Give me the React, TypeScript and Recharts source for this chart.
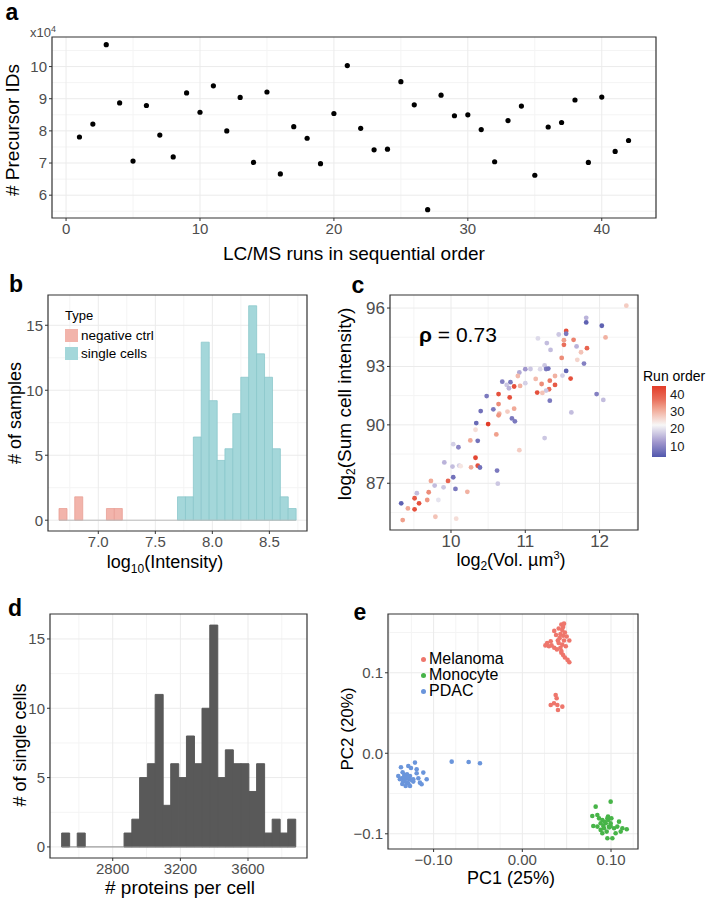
import React from 'react'
import {
  ScatterChart,
  Scatter,
  ComposedChart,
  Bar,
  XAxis,
  YAxis,
  CartesianGrid,
  ReferenceArea,
  ReferenceLine,
} from 'recharts'

const FONT = '"Liberation Sans", Arial, Helvetica, sans-serif'
const NARROW = '"Liberation Sans Narrow", "Arial Narrow", "Liberation Sans", sans-serif'
const TICK_GREY = '#4D4D4D'

// ---- panel a: precursor IDs per run (x10^4)
const runNumber = [
  1, 2, 3, 4, 5, 6, 7, 8, 9, 10, 11, 12, 13, 14, 15, 16, 17, 18, 19, 20, 21,
  22, 23, 24, 25, 26, 27, 28, 29, 30, 31, 32, 33, 34, 35, 36, 37, 38, 39, 40, 41, 42,
]
const precursorIds10k = [
  7.81, 8.21, 10.68, 8.87, 7.06, 8.79, 7.87, 7.19, 9.18, 8.58, 9.4, 8.0, 9.04, 7.02,
  9.21, 6.66, 8.13, 7.77, 6.98, 8.54, 10.03, 8.08, 7.41, 7.43, 9.53, 8.81, 5.55, 9.11,
  8.47, 8.5, 8.04, 7.04, 8.32, 8.77, 6.62, 8.12, 8.26, 8.96, 7.02, 9.05, 7.36, 7.7,
]

// ---- panel b: histogram of log10 intensity
const intensityBins = [
  6.69, 6.759, 6.828, 6.898, 6.967, 7.036, 7.106, 7.175, 7.244, 7.314, 7.383, 7.452,
  7.521, 7.591, 7.66, 7.729, 7.799, 7.868, 7.937, 8.007, 8.076, 8.145, 8.214, 8.284,
  8.353, 8.422, 8.492, 8.561, 8.63, 8.699,
]
const negCtrlCounts = [
  0.9, 0, 1.8, 0, 0, 0, 0.9, 0.9, 0, 0, 0, 0, 0, 0, 0, 0, 0, 0, 0, 0, 0, 0, 0, 0, 0, 0, 0, 0, 0, 0,
]
const singleCellCounts = [
  0, 0, 0, 0, 0, 0, 0, 0, 0, 0, 0, 0, 0, 0, 0, 1.8, 1.8, 6.4, 13.7, 9.2, 4.6, 5.5, 8.2,
  11, 16.5, 12.8, 11, 5.5, 1.8, 0.9,
]

// ---- panel c: volume vs summed intensity, coloured by run order
const cellVolume = [
  12.36, 11.82, 11.82, 12.03, 11.55, 11.55, 11.45, 12.08, 11.17, 11.65, 11.52, 11.29,
  11.52, 11.69, 11.83, 11.34, 11.75, 11.49, 11.7, 11.79, 11.26, 11.0, 11.07, 11.2,
  11.28, 11.31, 11.55, 10.92, 11.5, 11.4, 10.9, 11.61, 10.69, 10.8, 11.33, 11.14,
  10.75, 10.93, 11.0, 11.22, 11.4, 10.85, 10.78, 11.32, 11.28, 11.23, 11.16, 10.64,
  10.48, 10.79, 11.96, 12.05, 11.33, 10.64, 10.85, 10.76, 10.57, 10.4, 11.62, 10.82,
  10.65, 10.64, 10.86, 10.34, 10.5, 10.61, 11.26, 10.92, 10.03, 10.1, 10.26, 10.36,
  10.33, 10.33, 10.36, 10.39, 10.27, 10.62, 9.91, 10.02, 10.11, 10.13, 10.03, 9.96,
  10.63, 9.73, 9.78, 9.9, 10.06, 10.22, 9.7, 9.54, 9.51, 9.68, 9.83, 9.33, 9.57, 9.42,
  9.51, 9.79, 9.35, 10.07,
]
const cellIntensity = [
  96.12, 95.5, 95.26, 95.09, 94.82, 94.68, 94.64, 94.49, 94.44, 94.37, 94.35, 94.2,
  94.11, 94.03, 93.94, 93.85, 93.73, 93.44, 93.34, 93.15, 93.05, 92.86, 92.87, 92.86,
  92.87, 92.89, 92.77, 92.69, 92.53, 92.51, 92.51, 92.38, 92.22, 92.19, 92.27, 92.36,
  92.05, 92.0, 92.14, 92.1, 92.05, 91.97, 91.88, 91.83, 91.76, 91.64, 91.66, 91.58,
  91.48, 91.41, 91.58, 91.28, 91.24, 91.07, 90.83, 90.68, 90.8, 90.71, 90.64, 90.33,
  90.57, 90.49, 90.18, 90.09, 90.04, 89.51, 89.32, 88.7, 89.01, 88.85, 89.2, 89.18,
  89.75, 88.31, 87.9, 87.81, 87.82, 87.65, 88.07, 87.86, 87.91, 87.88, 87.31, 87.12,
  86.98, 87.12, 86.88, 86.79, 86.71, 86.56, 86.54, 86.49, 86.23, 86.14, 86.14, 85.97,
  85.97, 85.71, 85.66, 85.28, 85.11, 85.18,
]
const cellRunOrder = [
  27, 15, 5, 5, 40, 8, 17, 30, 19, 35, 32, 16, 37, 15, 38, 16, 28, 34, 26, 9, 17, 12,
  17, 19, 8, 7, 5, 14, 18, 30, 29, 40, 9, 8, 36, 29, 17, 30, 18, 34, 39, 40, 15, 37,
  17, 28, 40, 40, 8, 40, 9, 16, 8, 34, 31, 27, 8, 7, 16, 8, 30, 33, 8, 6, 42, 32, 17,
  27, 18, 10, 31, 7, 25, 41, 40, 7, 31, 8, 15, 16, 18, 24, 7, 38, 17, 31, 16, 17, 8,
  30, 34, 16, 39, 33, 20, 5, 40, 31, 40, 28, 32, 25,
]

// ---- panel d: proteins per cell histogram
const proteinBins = [
  2521, 2567, 2613, 2659, 2705, 2752, 2798, 2844, 2890, 2936, 2982, 3028, 3074, 3120,
  3166, 3213, 3259, 3305, 3351, 3397, 3443, 3489, 3535, 3581, 3628, 3674, 3720, 3766,
  3812, 3858,
]
const proteinCounts = [
  1, 0, 1, 0, 0, 0, 0, 0, 1, 2, 5, 6, 11, 3, 6, 5, 8, 6, 10, 16, 5, 7, 6, 6, 4, 6, 1, 2, 1, 2,
]

// ---- panel e: PCA
const melanomaPC1 = [
  0.044, 0.047, 0.041, 0.036, 0.045, 0.043, 0.046, 0.05, 0.042, 0.047, 0.053, 0.04,
  0.028, 0.03, 0.033, 0.026, 0.036, 0.039, 0.043, 0.045, 0.041, 0.044, 0.046, 0.048,
  0.051, 0.053, 0.044, 0.048, 0.038, 0.046, 0.032, 0.049, 0.0376, 0.0387, 0.0357,
  0.032, 0.0395, 0.0451, 0.0402,
]
const melanomaPC2 = [
  0.16, 0.161, 0.155, 0.152, 0.153, 0.148, 0.146, 0.145, 0.143, 0.14, 0.14, 0.14,
  0.137, 0.133, 0.134, 0.134, 0.131, 0.129, 0.131, 0.135, 0.137, 0.125, 0.122, 0.119,
  0.116, 0.113, 0.127, 0.15, 0.147, 0.157, 0.139, 0.133, 0.0724, 0.0683, 0.0621, 0.06,
  0.06, 0.0579, 0.0538,
]
const monocytePC1 = [
  0.0996, 0.0827, 0.0789, 0.0846, 0.0902, 0.0959, 0.0996, 0.0883, 0.0977, 0.1034,
  0.109, 0.08, 0.0921, 0.1109, 0.1177, 0.1052, 0.0959, 0.1015, 0.0883, 0.094, 0.097,
  0.0913, 0.0996, 0.0865, 0.1071, 0.1128, 0.0951, 0.0902, 0.0846, 0.1004, 0.0966,
  0.093, 0.098,
]
const monocytePC2 = [
  -0.0601, -0.0663, -0.0779, -0.0767, -0.0829, -0.0808, -0.087, -0.087, -0.0911,
  -0.0932, -0.0849, -0.0903, -0.0932, -0.0973, -0.0944, -0.0994, -0.1056, -0.1056,
  -0.0952, -0.087, -0.0829, -0.0903, -0.0903, -0.0808, -0.0911, -0.0932, -0.0973,
  -0.0994, -0.0911, -0.0808, -0.0787, -0.085, -0.092,
]
const pdacPC1 = [
  -0.1368, -0.1285, -0.1255, -0.121, -0.1349, -0.1398, -0.1331, -0.13, -0.1266,
  -0.1191, -0.1116, -0.136, -0.1323, -0.1277, -0.1247, -0.1342, -0.1304, -0.138,
  -0.1285, -0.1315, -0.1172, -0.1078, -0.1154, -0.1135, -0.1229, -0.1229, -0.1331,
  -0.1292, -0.1353, -0.1266, -0.1191, -0.0796, -0.0605, -0.0477,
]
const pdacPC2 = [
  -0.0174, -0.0158, -0.0182, -0.0116, -0.0236, -0.0282, -0.0269, -0.0261, -0.0282,
  -0.0249, -0.024, -0.031, -0.0323, -0.0323, -0.0331, -0.0352, -0.0365, -0.0323,
  -0.0373, -0.0406, -0.031, -0.0323, -0.0365, -0.0385, -0.0352, -0.0323, -0.0298,
  -0.0298, -0.0381, -0.0406, -0.0199, -0.0104, -0.0108, -0.0124,
]

const runStops = [1, 12, 22, 32, 42]
const runStopColors = [
  [58, 69, 163],
  [160, 150, 205],
  [247, 247, 247],
  [240, 160, 140],
  [226, 60, 40],
]

function runColor(v: number) {
  const t = Math.min(Math.max(v, runStops[0]), runStops[runStops.length - 1])
  let i = 0
  while (i < runStops.length - 2 && t > runStops[i + 1]) i++
  const f = (t - runStops[i]) / (runStops[i + 1] - runStops[i])
  const a = runStopColors[i]
  const b = runStopColors[i + 1]
  const c = a.map((ch, k) => Math.round(ch + (b[k] - ch) * f))
  return `rgb(${c[0]},${c[1]},${c[2]})`
}

const dot = (r: number, fill: string) => (p: any) =>
  <circle cx={p.cx} cy={p.cy} r={r} fill={fill} />

const tickStyle = (size: number, family = FONT) => ({
  fill: TICK_GREY,
  fontSize: size,
  fontFamily: family,
})

function Txt({ x, y, size = 18, rot = false, bold = false, color = '#000', family = FONT, left = false, children }: any) {
  return (
    <div
      style={{
        position: 'absolute',
        left: x,
        top: y,
        transform: `translate(${left ? '0' : '-50%'},-50%)${rot ? ' rotate(-90deg)' : ''}`,
        fontSize: size,
        fontWeight: bold ? 700 : 400,
        color,
        fontFamily: family,
        whiteSpace: 'nowrap',
        lineHeight: 1,
      }}
    >
      {children}
    </div>
  )
}

function Frame({ xd, yd }: { xd: number[]; yd: number[] }) {
  return (
    <ReferenceArea
      x1={xd[0]}
      x2={xd[1]}
      y1={yd[0]}
      y2={yd[1]}
      fill="none"
      stroke="#333333"
      strokeWidth={1.2}
      ifOverflow="visible"
    />
  )
}

function grids(minorX: number[], minorY: number[], majorX: number[], majorY: number[]) {
  return [
    <CartesianGrid key="mi" stroke="#F4F4F4" verticalValues={minorX} horizontalValues={minorY} />,
    <CartesianGrid key="ma" stroke="#EBEBEB" verticalValues={majorX} horizontalValues={majorY} />,
  ]
}

const tickLine = { stroke: '#333333' }

function PanelA() {
  const data = runNumber.map((r, i) => ({ x: r, y: precursorIds10k[i] }))
  const xd = [-1.05, 44.05]
  const yd = [5.29, 10.92]
  return (
    <div style={{ position: 'absolute', left: 0, top: 0 }}>
      <ScatterChart width={709} height={270} margin={{ top: 37, right: 53, bottom: 22, left: 22 }}>
        {grids([5, 15, 25, 35], [5.5, 6.5, 7.5, 8.5, 9.5, 10.5], [0, 10, 20, 30, 40], [6, 7, 8, 9, 10])}
        <XAxis type="number" dataKey="x" domain={xd} ticks={[0, 10, 20, 30, 40]} allowDataOverflow
          axisLine={false} tickLine={tickLine} tickSize={3} height={30} interval={0} tick={tickStyle(15, NARROW)} />
        <YAxis type="number" dataKey="y" domain={yd} ticks={[6, 7, 8, 9, 10]} allowDataOverflow
          axisLine={false} tickLine={tickLine} tickSize={3} width={30} interval={0} tick={tickStyle(15, NARROW)} />
        <Scatter data={data} isAnimationActive={false} shape={dot(2.6, '#000')} />
        <Frame xd={xd} yd={yd} />
      </ScatterChart>
    </div>
  )
}

function PanelB() {
  const data = intensityBins.map((m, i) => ({ x: m, neg: negCtrlCounts[i], sc: singleCellCounts[i] }))
  const half = (intensityBins[1] - intensityBins[0]) / 2
  const xd = [6.559, 8.83]
  const yd = [-0.83, 17.33]
  return (
    <div style={{ position: 'absolute', left: 0, top: 270 }}>
      <ComposedChart width={340} height={300} data={data} barCategoryGap={0} barGap={0}
        margin={{ top: 25, right: 33, bottom: 15, left: 18 }}>
        {grids([6.75, 7.25, 7.75, 8.25, 8.75], [2.5, 7.5, 12.5], [7, 7.5, 8, 8.5], [0, 5, 10, 15])}
        <XAxis type="number" dataKey="x" domain={xd} ticks={[7, 7.5, 8, 8.5]} allowDataOverflow
          axisLine={false} tickLine={tickLine} tickSize={3} height={24} interval={0}
          tickFormatter={(v: number) => v.toFixed(1)} tick={tickStyle(15)} />
        <YAxis type="number" domain={yd} ticks={[0, 5, 10, 15]} allowDataOverflow
          axisLine={false} tickLine={tickLine} tickSize={3} width={30} interval={0} tick={tickStyle(15)} />
        <ReferenceLine
          segment={[{ x: intensityBins[0] - half, y: 0 }, { x: intensityBins[intensityBins.length - 1] + half, y: 0 }]}
          stroke="#BDBDBD" strokeWidth={1} />
        <Bar dataKey="neg" stackId="h" fill="#F2B4AB" stroke="#E9A096" strokeWidth={0.8} isAnimationActive={false} />
        <Bar dataKey="sc" stackId="h" fill="#A4D7DA" stroke="#8CC8CC" strokeWidth={0.8} isAnimationActive={false} />
        <Frame xd={xd} yd={yd} />
      </ComposedChart>
    </div>
  )
}

function PanelC() {
  const data = cellVolume.map((v, i) => ({ x: v, y: cellIntensity[i], run: cellRunOrder[i] }))
  const xd = [9.179, 12.517]
  const yd = [84.6, 96.67]
  return (
    <div style={{ position: 'absolute', left: 340, top: 270 }}>
      <ScatterChart width={369} height={300} margin={{ top: 25, right: 71, bottom: 16, left: 20 }}>
        {grids([9.5, 10.5, 11.5, 12.5], [85.5, 88.5, 91.5, 94.5], [10, 11, 12], [87, 90, 93, 96])}
        <XAxis type="number" dataKey="x" domain={xd} ticks={[10, 11, 12]} allowDataOverflow
          axisLine={false} tickLine={tickLine} tickSize={3} height={24} interval={0} tick={tickStyle(17)} />
        <YAxis type="number" dataKey="y" domain={yd} ticks={[87, 90, 93, 96]} allowDataOverflow
          axisLine={false} tickLine={tickLine} tickSize={3} width={30} interval={0} tick={tickStyle(17)} />
        <Scatter data={data} isAnimationActive={false}
          shape={(p: any) => <circle cx={p.cx} cy={p.cy} r={2.4} fill={runColor(p.payload.run)} />} />
        <Frame xd={xd} yd={yd} />
      </ScatterChart>
    </div>
  )
}

function PanelD() {
  const data = proteinBins.map((m, i) => ({ x: m, n: proteinCounts[i] }))
  const half = (proteinBins[1] - proteinBins[0]) / 2
  const xd = [2429, 3949]
  const yd = [-0.8, 16.8]
  return (
    <div style={{ position: 'absolute', left: 0, top: 590 }}>
      <ComposedChart width={340} height={310} data={data} barCategoryGap={0} barGap={0}
        margin={{ top: 24, right: 33, bottom: 18, left: 20 }}>
        {grids([2600, 3000, 3400, 3800], [2.5, 7.5, 12.5], [2800, 3200, 3600], [0, 5, 10, 15])}
        <XAxis type="number" dataKey="x" domain={xd} ticks={[2800, 3200, 3600]} allowDataOverflow
          axisLine={false} tickLine={tickLine} tickSize={3} height={24} interval={0} tick={tickStyle(15)} />
        <YAxis type="number" domain={yd} ticks={[0, 5, 10, 15]} allowDataOverflow
          axisLine={false} tickLine={tickLine} tickSize={3} width={30} interval={0} tick={tickStyle(15)} />
        <ReferenceLine
          segment={[{ x: proteinBins[0] - half, y: 0 }, { x: proteinBins[proteinBins.length - 1] + half, y: 0 }]}
          stroke="#8A8A8A" strokeWidth={1} />
        <Bar dataKey="n" fill="#595959" stroke="#595959" strokeWidth={1} isAnimationActive={false} />
        <Frame xd={xd} yd={yd} />
      </ComposedChart>
    </div>
  )
}

const MEL = '#EE766C'
const MONO = '#47B448'
const PDAC = '#6A95DB'

function PanelE() {
  const mel = melanomaPC1.map((x, i) => ({ x, y: melanomaPC2[i] }))
  const mono = monocytePC1.map((x, i) => ({ x, y: monocytePC2[i] }))
  const pdac = pdacPC1.map((x, i) => ({ x, y: pdacPC2[i] }))
  const xd = [-0.1514, 0.1304]
  const yd = [-0.1189, 0.173]
  const fmt = (v: number, d: number) => (v < 0 ? '\u2212' : '') + Math.abs(v).toFixed(d)
  return (
    <div style={{ position: 'absolute', left: 340, top: 590 }}>
      <ScatterChart width={369} height={310} margin={{ top: 24, right: 71, bottom: 27, left: 14 }}>
        {grids([-0.125, -0.075, -0.025, 0.025, 0.075, 0.125], [-0.05, 0.05, 0.15],
          [-0.15, -0.1, -0.05, 0, 0.05, 0.1], [-0.1, 0, 0.1])}
        <XAxis type="number" dataKey="x" domain={xd} ticks={[-0.1, 0, 0.1]} allowDataOverflow
          axisLine={false} tickLine={tickLine} tickSize={3} height={24} interval={0}
          tickFormatter={(v: number) => fmt(v, 2)} tick={tickStyle(15)} />
        <YAxis type="number" dataKey="y" domain={yd} ticks={[-0.1, 0, 0.1]} allowDataOverflow
          axisLine={false} tickLine={tickLine} tickSize={3} width={34} interval={0}
          tickFormatter={(v: number) => fmt(v, 1)} tick={tickStyle(15)} />
        <Scatter data={mel} isAnimationActive={false} shape={dot(2.3, MEL)} />
        <Scatter data={mono} isAnimationActive={false} shape={dot(2.3, MONO)} />
        <Scatter data={pdac} isAnimationActive={false} shape={dot(2.3, PDAC)} />
        <Frame xd={xd} yd={yd} />
      </ScatterChart>
    </div>
  )
}

function RunOrderBar() {
  const lo = 3.5
  const hi = 44.6
  const top = 386
  const height = 71
  const stops = [lo, 8, 12, 17, 22, 27, 32, 37, hi]
  const grad = stops.map((v) => `${runColor(v)} ${(((v - lo) / (hi - lo)) * 100).toFixed(1)}%`).join(', ')
  const yOf = (v: number) => top + height - ((v - lo) / (hi - lo)) * height
  return (
    <>
      <Txt x={643} y={376} size={14} left>Run order</Txt>
      <div style={{ position: 'absolute', left: 652, top, width: 14, height, background: `linear-gradient(to top, ${grad})` }} />
      {[10, 20, 30, 40].map((v) => (
        <Txt key={v} x={670} y={yOf(v)} size={13} left color="#1a1a1a">{v}</Txt>
      ))}
    </>
  )
}

export default function App() {
  return (
    <div style={{ position: 'relative', width: 709, height: 900, background: '#fff', fontFamily: FONT, overflow: 'hidden' }}>
      <style>{'body{margin:0}'}</style>
      <PanelA />
      <PanelB />
      <PanelC />
      <PanelD />
      <PanelE />

      {/* panel letters */}
      <Txt x={12} y={12} size={23} bold>a</Txt>
      <Txt x={16} y={284} size={23} bold>b</Txt>
      <Txt x={358} y={285} size={23} bold>c</Txt>
      <Txt x={15} y={608} size={23} bold>d</Txt>
      <Txt x={360} y={612} size={23} bold>e</Txt>

      {/* panel a text */}
      <Txt x={30} y={32} size={13} left color={TICK_GREY} family={NARROW}>
        x10<sup style={{ fontSize: 9 }}>4</sup>
      </Txt>
      <Txt x={12} y={130} size={19} rot>
        # Precursor IDs
      </Txt>
      <Txt x={354} y={253} size={19} family={NARROW}>
        LC/MS runs in sequential order
      </Txt>

      {/* panel b text */}
      <Txt x={15} y={413} size={18} rot># of samples</Txt>
      <Txt x={165} y={564} size={18}>
        log<sub style={{ fontSize: 12 }}>10</sub>(Intensity)
      </Txt>
      <Txt x={65} y={315} size={13} left>Type</Txt>
      <div style={{ position: 'absolute', left: 65, top: 329, width: 12.5, height: 13, background: '#F2B4AB' }} />
      <div style={{ position: 'absolute', left: 65, top: 347, width: 12.5, height: 13, background: '#A4D7DA' }} />
      <Txt x={81} y={336} size={13.5} left>negative ctrl</Txt>
      <Txt x={81} y={354} size={13.5} left>single cells</Txt>

      {/* panel c text */}
      <Txt x={346} y={404} size={19} rot>
        log<sub style={{ fontSize: 12 }}>2</sub>(Sum cell intensity)
      </Txt>
      <Txt x={511} y={561} size={18}>
        log<sub style={{ fontSize: 12 }}>2</sub>(Vol. µm<sup style={{ fontSize: 11 }}>3</sup>)
      </Txt>
      <Txt x={419} y={334} size={21} left>
        <b>ρ</b> = 0.73
      </Txt>
      <RunOrderBar />

      {/* panel d text */}
      <Txt x={20} y={745} size={18} rot># of single cells</Txt>
      <Txt x={180} y={887} size={19}># proteins per cell</Txt>

      {/* panel e text */}
      <Txt x={347} y={729} size={17} rot>PC2 (20%)</Txt>
      <Txt x={511} y={878} size={18}>PC1 (25%)</Txt>
      {[
        ['Melanoma', MEL, 659],
        ['Monocyte', MONO, 675],
        ['PDAC', PDAC, 691],
      ].map(([name, col, y]) => (
        <React.Fragment key={name as string}>
          <div style={{ position: 'absolute', left: 420.5, top: (y as number) - 2.5, width: 5, height: 5, borderRadius: 3, background: col as string }} />
          <Txt x={429} y={y} size={16} left>{name}</Txt>
        </React.Fragment>
      ))}
    </div>
  )
}
